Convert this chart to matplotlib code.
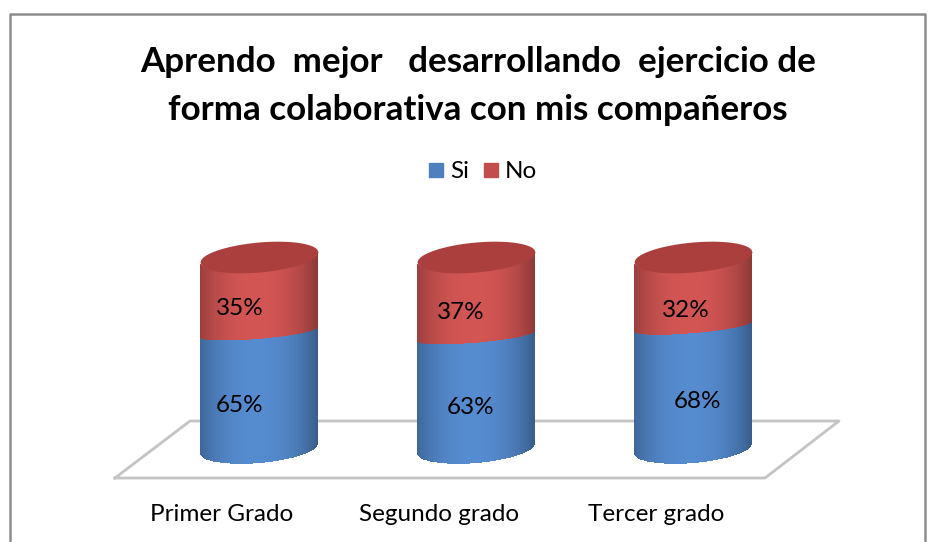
#!/usr/bin/env python3
"""Stacked cylinder chart: Si / No answers by grade."""

import matplotlib
matplotlib.use("Agg")
import matplotlib.pyplot as plt
import numpy as np

plt.rcParams["font.family"] = ["Lato", "DejaVu Sans"]

# ---------------------------------------------------------------------------
# Data
# ---------------------------------------------------------------------------
GRADES = ["Primer Grado", "Segundo grado", "Tercer grado"]
SI = [65, 63, 68]
NO = [35, 37, 32]
TITLE_1 = "Aprendo  mejor   desarrollando  ejercicio de"
TITLE_2 = "forma colaborativa con mis compañeros"

# label offsets from the cylinder centre, in pixels (x) and value units (y)
SI_LABEL_POS = [(-19, 30), (-5, 29), (4, 32)]
NO_LABEL_POS = [(-19, 81), (-15, 79), (-7, 80)]

BLUE = np.array([0x55, 0x8b, 0xcf]) / 255
RED = np.array([0xd2, 0x55, 0x53]) / 255
TOP_RED = "#aa3f3d"

W, H = 930, 542
X0, DX = 259, 217       # first cylinder centre and spacing, px
Y0, PX100 = 463, 191    # y of value 0 at front of the cylinder, px per 100%
HALF_W = 59 / DX
RY = 15 / PX100 * 100
TILT = 5 / PX100 * 100
SEAM_FLAT = 0.45        # the Si/No seam curves less than the cylinder ends


def arc(u, value, front=True, flat=1.0):
    """y of the tilted ellipse at height value, with value measured at the front."""
    bulge = flat * RY * np.sqrt(np.clip(1 - u**2, 0, 1))
    centre = value + flat * RY + TILT * u
    return centre - bulge if front else centre + bulge


def shade(u):
    return 1.0 - 0.3 * np.abs(u + 0.05) ** 2.4


def body(ax, cx, low, high, color, flat_low=1.0, flat_high=1.0):
    u = np.sin(np.linspace(-np.pi / 2, np.pi / 2, 121))
    xs = cx + HALF_W * u
    rows = np.linspace(0, 1, 40)
    yy = np.array([arc(u, low, flat=flat_low) * (1 - t) + arc(u, high, flat=flat_high) * t
                   for t in rows])
    xx = np.tile(xs, (len(rows), 1))
    mid = (u[:-1] + u[1:]) / 2
    rgb = np.outer(shade(mid), color)
    rgb = np.tile(rgb[None, :, :], (len(rows) - 1, 1, 1))
    ax.pcolormesh(xx, yy, rgb, shading="flat", zorder=3)


fig = plt.figure(figsize=(W / 100, H / 100), dpi=100)

# pixel-space layer for frame, floor and text
bg = fig.add_axes([0, 0, 1, 1])
bg.set_xlim(0, W)
bg.set_ylim(H, 0)
bg.axis("off")
bg.plot([10, 10, 925, 925], [H, 14, 14, H], color="#8c8c8c", lw=1.8)
bg.plot([115, 190, 839, 765, 115], [478, 421, 421, 478, 478], color="#c4c4c4", lw=2)
bg.text(478, 62, TITLE_1, ha="center", va="center", fontsize=25.2, fontweight="bold")
bg.text(478, 110, TITLE_2, ha="center", va="center", fontsize=25.2, fontweight="bold")

# legend
bg.add_patch(plt.Rectangle((429, 163), 14, 14, color=BLUE * 0.92))
bg.add_patch(plt.Rectangle((484, 163), 14, 14, color=RED * 0.92))
bg.text(450, 171, "Si", va="center", fontsize=17.5)
bg.text(505, 171, "No", va="center", fontsize=17.5)

# data layer: x in category units, y in percent
ax = fig.add_axes([0, 0, 1, 1])
ax.patch.set_alpha(0)
ax.axis("off")
ax.set_xlim((0 - X0) / DX, (W - X0) / DX)
ax.set_ylim((Y0 - H) / PX100 * 100, Y0 / PX100 * 100)

for i, grade in enumerate(GRADES):
    body(ax, i, 0, SI[i], BLUE, flat_high=SEAM_FLAT)
    body(ax, i, SI[i], SI[i] + NO[i], RED, flat_low=SEAM_FLAT)
    u = np.linspace(-1, 1, 121)
    total = SI[i] + NO[i]
    ax.fill_between(i + HALF_W * u, arc(u, total), arc(u, total, front=False),
                    color=TOP_RED, lw=0, zorder=4)
    sx, sy = SI_LABEL_POS[i]
    nx, ny = NO_LABEL_POS[i]
    ax.text(i + sx / DX, sy, f"{SI[i]}%", ha="center", va="center", fontsize=17.5, zorder=5)
    ax.text(i + nx / DX, ny, f"{NO[i]}%", ha="center", va="center", fontsize=17.5, zorder=5)
    ax.text(i - 37 / DX, -27, grade, ha="center", va="center", fontsize=17.5)

fig.savefig("out.png", dpi=100)
